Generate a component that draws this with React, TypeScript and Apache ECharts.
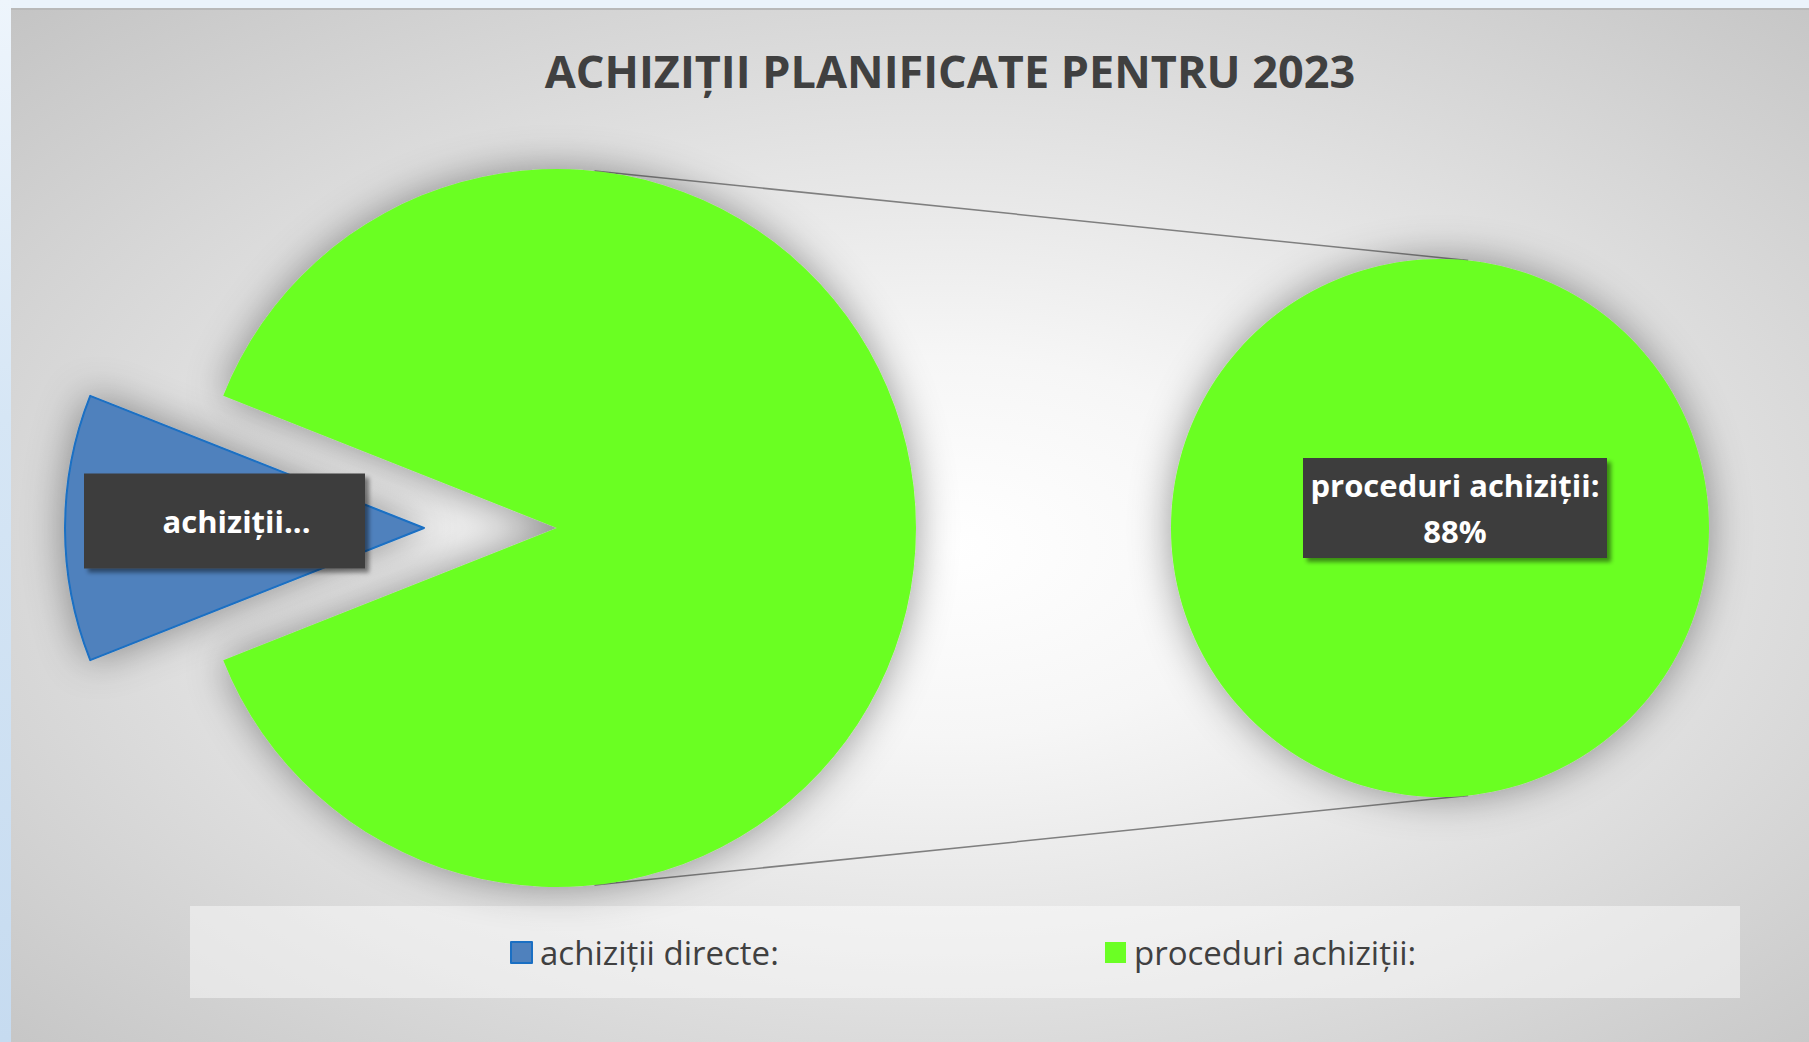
import React, { useEffect, useRef } from 'react';
import * as echarts from 'echarts';

const titleText = 'ACHIZIȚII PLANIFICATE PENTRU 2023';
const categories = ['achiziții directe:', 'proceduri achiziții:'];
const primaryValues = [12, 88];
const secondaryCategories = ['proceduri achiziții:'];
const secondaryValues = [88];
const sliceColors = ['#4f81bd', '#6bff24'];

const FONT = "'Open Sans', 'Noto Sans', sans-serif";
const L = { cx: 557, cy: 528, r: 359 };
const R = { cx: 1440, cy: 528, r: 269 };

export default function App() {
  const ref = useRef<HTMLDivElement>(null);

  useEffect(() => {
    if (!ref.current) return;
    const chart = echarts.init(ref.current, undefined, { renderer: 'svg' });
    const total = primaryValues.reduce((a, b) => a + b, 0);
    const blueAngle = (primaryValues[0] / total) * 360;
    const ang = (6 * Math.PI) / 180;

    const labelBox = {
      color: '#ffffff',
      fontFamily: FONT,
      fontWeight: 'bold' as const,
      fontSize: 31,
      backgroundColor: '#3d3d3d',
      shadowColor: 'rgba(0,0,0,0.45)',
      shadowBlur: 4,
      shadowOffsetX: 4,
      shadowOffsetY: 4,
    };

    const legendBase = {
      orient: 'horizontal' as const,
      top: 936,
      padding: 0,
      itemWidth: 21,
      itemHeight: 21,
      itemGap: 0,
      icon: 'rect',
      selectedMode: false,
      textStyle: { fontFamily: FONT, fontSize: 33, color: '#404040', padding: [0, 0, 0, 3] },
    };

    chart.setOption({
      animation: false,
      backgroundColor: 'transparent',
      title: {
        text: titleText,
        left: 945,
        top: 43,
        textAlign: 'center',
        textStyle: { fontFamily: FONT, fontWeight: 'bold', fontSize: 45, color: '#404040' },
      },
      legend: [
        { ...legendBase, left: 510, data: [categories[0]] },
        { ...legendBase, left: 1105, data: [categories[1]] },
      ],
      graphic: [
        {
          type: 'rect',
          z: 0,
          shape: { x: 190, y: 906, width: 1550, height: 92 },
          style: { fill: 'rgba(255,255,255,0.45)' },
        },
        {
          type: 'line',
          z: 1,
          shape: {
            x1: L.cx + L.r * Math.sin(ang),
            y1: L.cy - L.r * Math.cos(ang),
            x2: R.cx + R.r * Math.sin(ang),
            y2: R.cy - R.r * Math.cos(ang),
          },
          style: { stroke: '#7f7f7f', lineWidth: 1.5 },
        },
        {
          type: 'line',
          z: 1,
          shape: {
            x1: L.cx + L.r * Math.sin(ang),
            y1: L.cy + L.r * Math.cos(ang),
            x2: R.cx + R.r * Math.sin(ang),
            y2: R.cy + R.r * Math.cos(ang),
          },
          style: { stroke: '#7f7f7f', lineWidth: 1.5 },
        },
      ],
      series: [
        {
          type: 'pie',
          name: 'primar',
          center: [L.cx, L.cy],
          radius: [0, L.r],
          startAngle: 180 + blueAngle / 2,
          clockwise: true,
          selectedMode: 'single',
          selectedOffset: 133,
          avoidLabelOverlap: false,
          emphasis: { disabled: true },
          labelLine: { show: false },
          data: categories.map((name, i) => ({
            name,
            value: primaryValues[i],
            selected: i === 0,
            itemStyle: {
              color: sliceColors[i],
              borderColor: i === 0 ? '#1a6fc3' : sliceColors[i],
              borderWidth: i === 0 ? 2 : 0,
              shadowBlur: 40,
              shadowColor: 'rgba(0,0,0,0.4)',
            },
            select: {
              itemStyle: {
                color: sliceColors[i],
                borderColor: i === 0 ? '#1a6fc3' : sliceColors[i],
                borderWidth: i === 0 ? 2 : 0,
              },
            },
            label:
              i === 0
                ? {
                    show: true,
                    position: 'inside',
                    formatter: (p: any) => p.name.split(' ')[0] + '...',
                    ...labelBox,
                    width: 257,
                    height: 95,
                    lineHeight: 95,
                    padding: [0, 0, 0, 24],
                    align: 'center',
                  }
                : { show: false },
          })),
          labelLayout: { dx: -17, dy: -7 },
        },
        {
          type: 'pie',
          name: 'secundar',
          center: [R.cx, R.cy],
          radius: [0, R.r],
          avoidLabelOverlap: false,
          emphasis: { disabled: true },
          labelLine: { show: false },
          itemStyle: { shadowBlur: 40, shadowColor: 'rgba(0,0,0,0.4)' },
          data: secondaryCategories.map((name, i) => ({
            name,
            value: secondaryValues[i],
            itemStyle: { color: sliceColors[1] },
          })),
          label: {
            show: true,
            position: 'center',
            formatter: '{b}\n{c}%',
            ...labelBox,
            width: 304,
            lineHeight: 46,
            padding: [4, 0, 4, 0],
            align: 'center',
          },
          labelLayout: { dx: 15, dy: -20 },
        },
      ],
    });
    return () => chart.dispose();
  }, []);

  return (
    <div style={{ position: 'absolute', left: 0, top: 0, width: 1809, height: 1042, background: '#ebf3fb', overflow: 'hidden' }}>
      <div
        style={{
          position: 'absolute',
          left: 0,
          top: 0,
          width: 11,
          height: 1042,
          background: 'linear-gradient(to bottom, #eef5fc 0%, #d6e6f5 40%, #c6dbf0 100%)',
        }}
      />
      <div
        style={{
          position: 'absolute',
          left: 11,
          top: 8,
          width: 1798,
          height: 1034,
          boxSizing: 'border-box',
          borderTop: '2px solid #b9b9b9',
          background:
            'radial-gradient(ellipse farthest-corner at 52% 52%, #ffffff 0%, #f6f6f6 25%, #e2e2e2 55%, #c4c4c4 100%)',
        }}
      />
      <div ref={ref} style={{ position: 'absolute', left: 0, top: 0, width: 1809, height: 1042 }} />
    </div>
  );
}
